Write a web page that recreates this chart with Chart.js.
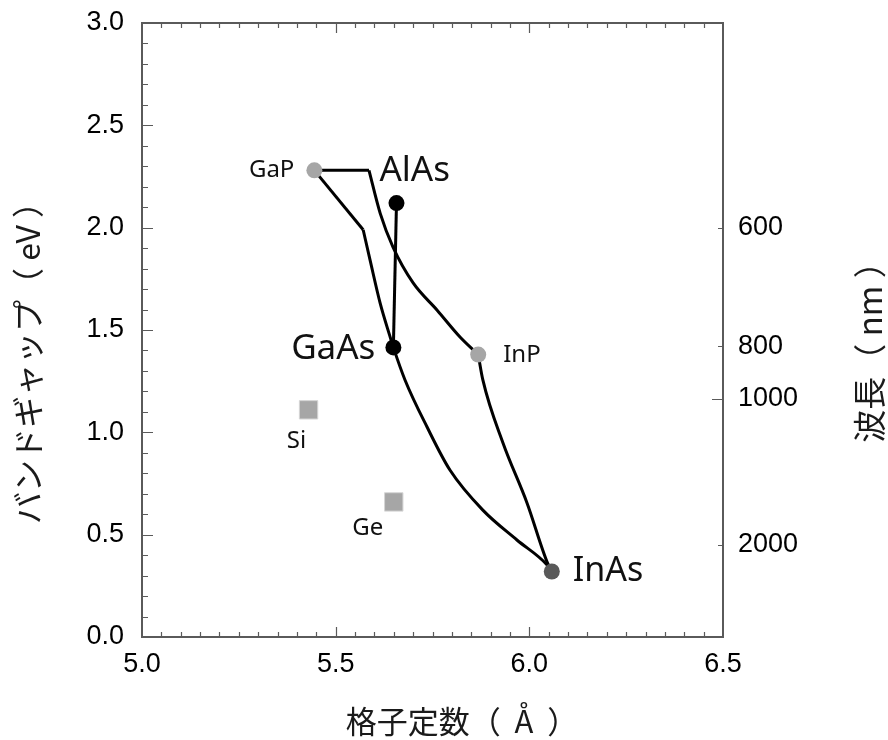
<!DOCTYPE html>
<html>
<head>
<meta charset="utf-8">
<script src="https://cdn.jsdelivr.net/npm/chart.js@4.4.1/dist/chart.umd.min.js"></script>
<style>
  html, body { margin: 0; padding: 0; background: #fff; }
  #wrap { width: 888px; height: 740px; }
</style>
</head>
<body>
<div id="wrap"><canvas id="gapChart" width="888" height="740"></canvas></div>
<script>
// compound semiconductors (lattice constant in A, band gap in eV)
const compounds = ["GaP", "AlAs", "GaAs", "InP", "InAs"];
const compoundLattice = [5.445, 5.657, 5.649, 5.868, 6.058];
const compoundGap = [2.28, 2.12, 1.415, 1.38, 0.32];

// elemental semiconductors
const elements = ["Si", "Ge"];
const elementLattice = [5.43, 5.65];
const elementGap = [1.11, 0.66];

// alloy boundary lines
const gapFlatX = [5.445, 5.586];
const gapFlatY = [2.28, 2.28];
const upperCurveX = [5.586, 5.615, 5.648, 5.700, 5.762, 5.821, 5.868];
const upperCurveY = [2.28, 2.07, 1.905, 1.73, 1.597, 1.466, 1.38];
const gapDropX = [5.445, 5.571];
const gapDropY = [2.28, 1.99];
const lowerCurveX = [5.571, 5.589, 5.615, 5.640, 5.649, 5.679, 5.736, 5.795, 5.880, 5.968, 6.046, 6.058];
const lowerCurveY = [1.99, 1.84, 1.63, 1.47, 1.415, 1.256, 1.026, 0.816, 0.62, 0.474, 0.352, 0.32];
const inpCurveX = [5.868, 5.880, 5.932, 5.994, 6.046, 6.058];
const inpCurveY = [1.38, 1.256, 0.948, 0.655, 0.366, 0.32];
const alasLineX = [5.657, 5.649];
const alasLineY = [2.12, 1.415];

// axes
const xTickValues = [5.0, 5.5, 6.0, 6.5];
const yTickValues = [0.0, 0.5, 1.0, 1.5, 2.0, 2.5, 3.0];
const waveLabels = ["600", "800", "1000", "2000"];
const waveTickEv = [2.0, 1.42, 1.165, 0.45];

const pointColors = ["#a6a6a6", "#000000", "#000000", "#a6a6a6", "#595959"];
const labelStyle = {
  GaP:  { dx: -20, dy: 0,  size: 24, align: "right" },
  AlAs: { dx: -17, dy: -32, size: 35, align: "left" },
  GaAs: { dx: -18, dy: 2,  size: 35, align: "right" },
  InP:  { dx: 25,  dy: 1,  size: 24, align: "left" },
  InAs: { dx: 21,  dy: 0,  size: 34, align: "left" },
  Si:   { dx: -12, dy: 31, size: 24, align: "center" },
  Ge:   { dx: -26, dy: 26, size: 24, align: "center" }
};

const zip = (xs, ys) => xs.map((v, i) => ({ x: v, y: ys[i] }));
const lineSet = (xs, ys, smooth) => ({
  data: zip(xs, ys),
  showLine: true,
  borderColor: "#000",
  borderWidth: 3,
  pointRadius: 0,
  cubicInterpolationMode: smooth ? "monotone" : "default",
  tension: 0,
  fill: false
});

const tickFont = { family: "'Liberation Sans', Arial, sans-serif", size: 27 };
const noEdgePadding = s => { s.paddingTop = 0; s.paddingBottom = 0; s.paddingLeft = 0; s.paddingRight = 0; };

const framePlugin = {
  id: "frame",
  afterDraw(chart) {
    const { ctx, chartArea: a, scales } = chart;
    const x = scales.x, y = scales.y, y2 = scales.y2;
    ctx.save();
    ctx.strokeStyle = "#5a5a5a";
    ctx.lineWidth = 1.2;
    ctx.beginPath();
    // x ticks top and bottom, every 0.05
    const nx = Math.round((x.max - x.min) / 0.05);
    for (let i = 1; i < nx; i++) {
      const px = Math.round(x.getPixelForValue(x.min + i * 0.05)) + 0.5;
      const len = i % 10 === 0 ? 10 : 5;
      ctx.moveTo(px, a.bottom); ctx.lineTo(px, a.bottom - len);
      ctx.moveTo(px, a.top); ctx.lineTo(px, a.top + len);
    }
    // left ticks, every 0.1
    const ny = Math.round((y.max - y.min) / 0.1);
    for (let i = 1; i < ny; i++) {
      const py = Math.round(y.getPixelForValue(y.min + i * 0.1)) + 0.5;
      const len = i % 5 === 0 ? 11 : 6;
      ctx.moveTo(a.left, py); ctx.lineTo(a.left + len, py);
    }
    // right wavelength ticks
    waveTickEv.forEach((v, i) => {
      const py = Math.round(y2.getPixelForValue(v)) + 0.5;
      const len = waveLabels[i] === "1000" ? 11 : 5;
      ctx.moveTo(a.right, py); ctx.lineTo(a.right - len, py);
    });
    ctx.stroke();
    ctx.lineWidth = 2;
    ctx.strokeRect(a.left, a.top, a.right - a.left, a.bottom - a.top);

    // point labels
    ctx.fillStyle = "#111";
    ctx.textBaseline = "middle";
    const drawLabels = (metaIndex, names) => {
      const meta = chart.getDatasetMeta(metaIndex);
      names.forEach((name, i) => {
        const st = labelStyle[name];
        const el = meta.data[i];
        ctx.font = st.size + "px 'Noto Sans', 'Open Sans', sans-serif";
        ctx.textAlign = st.align;
        ctx.fillText(name, el.x + st.dx, el.y + st.dy);
      });
    };
    drawLabels(0, compounds);
    drawLabels(1, elements);

    // axis titles
    ctx.fillStyle = "#1a1a1a";
    ctx.textAlign = "center";
    ctx.font = "31px 'Noto Sans CJK JP', sans-serif";
    ctx.fillText("格子定数（  Å  ）", a.left + 320, a.bottom + 84);

    ctx.font = "32px 'Noto Sans CJK JP', sans-serif";
    ctx.save();
    ctx.translate(28, a.top + 332);
    ctx.rotate(-Math.PI / 2);
    ctx.fillText("バンドギャップ（ eV ）", 0, 0);
    ctx.restore();

    ctx.font = "33px 'Noto Sans CJK JP', sans-serif";
    ctx.save();
    ctx.translate(a.right + 146, a.top + 321);
    ctx.rotate(-Math.PI / 2);
    ctx.fillText("波長（ nm ）", 0, 0);
    ctx.restore();
    ctx.restore();
  }
};

const ctx = document.getElementById("gapChart").getContext("2d");
new Chart(ctx, {
  type: "scatter",
  data: {
    datasets: [
      {
        data: zip(compoundLattice, compoundGap),
        pointRadius: 8,
        pointBackgroundColor: pointColors,
        pointBorderWidth: 0,
        showLine: false
      },
      {
        data: zip(elementLattice, elementGap),
        pointStyle: "rect",
        pointRadius: 13,
        pointBackgroundColor: "#a6a6a6",
        pointBorderColor: "#d6d6d6",
        pointBorderWidth: 1,
        showLine: false
      },
      lineSet(gapFlatX, gapFlatY, false),
      lineSet(upperCurveX, upperCurveY, true),
      lineSet(gapDropX, gapDropY, false),
      lineSet(lowerCurveX, lowerCurveY, true),
      lineSet(inpCurveX, inpCurveY, true),
      lineSet(alasLineX, alasLineY, false)
    ]
  },
  options: {
    responsive: false,
    animation: false,
    layout: { padding: { top: 23, left: 0, right: 0, bottom: 0 } },
    plugins: { legend: { display: false }, tooltip: { enabled: false } },
    scales: {
      x: {
        type: "linear",
        min: 5.0,
        max: 6.5,
        afterBuildTicks: s => { s.ticks = xTickValues.map(v => ({ value: v })); },
        afterFit: s => { s.height = 103; noEdgePadding(s); },
        grid: { display: false, drawTicks: false, tickLength: 0 },
        border: { display: false },
        ticks: { font: tickFont, color: "#000", padding: 11, maxRotation: 0, autoSkip: false,
                 callback: v => v.toFixed(1) }
      },
      y: {
        position: "left",
        min: 0,
        max: 3.0,
        afterBuildTicks: s => { s.ticks = yTickValues.map(v => ({ value: v })); },
        afterFit: s => { s.width = 142; noEdgePadding(s); },
        grid: { display: false, drawTicks: false, tickLength: 0 },
        border: { display: false },
        ticks: { font: tickFont, color: "#000", padding: 18, autoSkip: false,
                 callback: v => v.toFixed(1) }
      },
      y2: {
        position: "right",
        min: 0,
        max: 3.0,
        afterBuildTicks: s => { s.ticks = waveTickEv.map(v => ({ value: v })); },
        afterFit: s => { s.width = 165; noEdgePadding(s); },
        grid: { display: false, drawTicks: false, tickLength: 0 },
        border: { display: false },
        ticks: { font: tickFont, color: "#000", padding: 15, autoSkip: false,
                 callback: (v, i) => waveLabels[i] }
      }
    }
  },
  plugins: [framePlugin]
});
</script>
</body>
</html>
